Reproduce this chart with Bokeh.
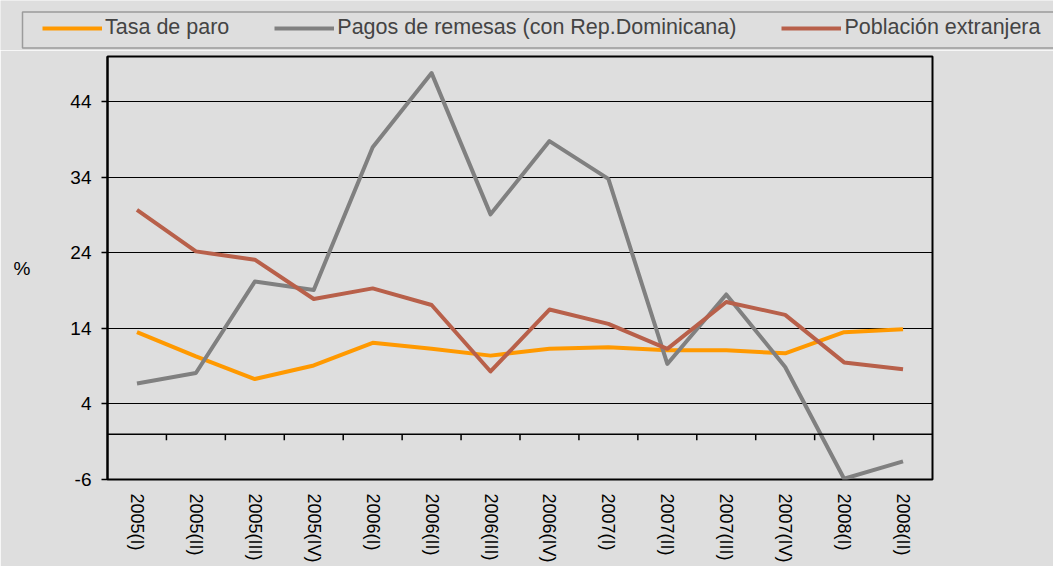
from math import pi
from bokeh.plotting import figure
from bokeh.layouts import column
from bokeh.models import (Range1d, FixedTicker, Legend, LegendItem, Span, BoxAnnotation)
from bokeh.embed import file_html
from bokeh.resources import INLINE

categories = ["2005(I)", "2005(II)", "2005(III)", "2005(IV)", "2006(I)", "2006(II)",
              "2006(III)", "2006(IV)", "2007(I)", "2007(II)", "2007(III)", "2007(IV)",
              "2008(I)", "2008(II)"]
tasa_paro = [13.5, 10.3, 7.3, 9.1, 12.1, 11.3, 10.4, 11.3, 11.5, 11.1, 11.1, 10.7, 13.5, 13.9]
pagos_remesas = [6.7, 8.1, 20.2, 19.1, 38.0, 47.8, 29.1, 38.8, 33.8, 9.3, 18.5, 8.9, -5.9, -3.6]
poblacion_ext = [29.7, 24.2, 23.1, 17.9, 19.3, 17.1, 8.3, 16.5, 14.6, 11.3, 17.5, 15.8, 9.5, 8.6]
y_ticks = [-6, 4, 14, 24, 34, 44]
series_names = ["Tasa de paro", "Pagos de remesas (con Rep.Dominicana)", "Población extranjera"]
series_colors = ["#ff9900", "#808080", "#b8604a"]
series_data = [tasa_paro, pagos_remesas, poblacion_ext]

BG = "#dedede"
FONT = "Liberation Sans"

xs = [i + 0.5 for i in range(len(categories))]
bounds = list(range(1, len(categories)))

# ---- legend strip (its ranges are in pixels, y measured from the strip bottom) ----
STRIP_W, STRIP_H = 1053, 50
pl = figure(width=STRIP_W, height=STRIP_H, x_range=Range1d(0, STRIP_W),
            y_range=Range1d(0, STRIP_H), output_backend="svg", toolbar_location=None,
            x_axis_location=None, y_axis_location=None,
            min_border_left=0, min_border_right=0, min_border_top=0, min_border_bottom=0,
            background_fill_color=BG, border_fill_color=BG)
pl.outline_line_color = None
pl.xgrid.grid_line_color = None
pl.ygrid.grid_line_color = None
pl.add_layout(BoxAnnotation(left=22, right=STRIP_W + 20, top=STRIP_H - 11.5,
                            bottom=STRIP_H - 47.5, fill_alpha=0,
                            line_color="black", line_width=1.5))
leg_renderers = []
for data, col in zip(series_data, series_colors):
    r = pl.line(xs, data, line_color=col, line_width=4, visible=False)
    leg_renderers.append(r)
legend = Legend(items=[LegendItem(label=n, renderers=[r]) for n, r in zip(series_names, leg_renderers)],
                orientation="horizontal", location=(42, 10), padding=5, spacing=45,
                glyph_width=60, glyph_height=20, label_height=20, label_standoff=3,
                label_text_font=FONT, label_text_font_size="21.5px",
                background_fill_alpha=0, border_line_color=None, margin=0,
                inactive_fill_alpha=0)
pl.add_layout(legend)

# ---- main chart ----
p = figure(width=1053, height=516, x_range=Range1d(0, len(categories)),
           y_range=Range1d(-6, 50), output_backend="svg", toolbar_location=None,
           min_border_left=107, min_border_right=121,
           min_border_top=6, min_border_bottom=87,
           background_fill_color=BG, border_fill_color=BG)

for fig in (pl, p):
    try:
        fig.frame_align = False
    except Exception:
        pass

p.outline_line_color = "black"
p.outline_line_width = 2

ax = p.yaxis[0]
ax.ticker = FixedTicker(ticks=y_ticks)
ax.major_label_overrides = {t: str(t) for t in y_ticks}
ax.axis_line_color = "black"
ax.axis_line_width = 2
ax.major_tick_line_color = "black"
ax.major_tick_line_width = 1.5
ax.major_tick_out = 6
ax.major_tick_in = 0
ax.minor_tick_line_color = None
ax.major_label_text_font = FONT
ax.major_label_text_font_size = "19px"
ax.major_label_text_color = "black"
ax.major_label_standoff = 10
ax.axis_label = "%"
ax.axis_label_orientation = "horizontal"
ax.axis_label_text_font = FONT
ax.axis_label_text_font_size = "19px"
ax.axis_label_text_font_style = "normal"
ax.axis_label_text_color = "black"
ax.axis_label_standoff = 37

bx = p.xaxis[0]
bx.ticker = FixedTicker(ticks=xs)
bx.major_label_overrides = {x: c for x, c in zip(xs, categories)}
bx.major_label_orientation = -pi / 2
bx.axis_line_color = None
bx.major_tick_line_color = None
bx.major_tick_out = 0
bx.major_tick_in = 0
bx.minor_tick_line_color = None
bx.major_label_text_font = FONT
bx.major_label_text_font_size = "18px"
bx.major_label_text_color = "black"
bx.major_label_standoff = 14

p.xgrid.grid_line_color = None
p.ygrid.ticker = FixedTicker(ticks=y_ticks[1:])
p.ygrid.grid_line_color = "black"
p.ygrid.grid_line_width = 1

p.add_layout(Span(location=0, dimension="width", line_color="black", line_width=1.5))
p.ray(x=bounds, y=[0] * len(bounds), length=6, length_units="screen",
      angle=-pi / 2, line_color="black", line_width=1.5)

for data, col in zip(series_data, series_colors):
    p.line(xs, data, line_color=col, line_width=4, line_join="round")

layout = column(pl, p, spacing=0)
open("out.html", "w").write(file_html(layout, INLINE))
